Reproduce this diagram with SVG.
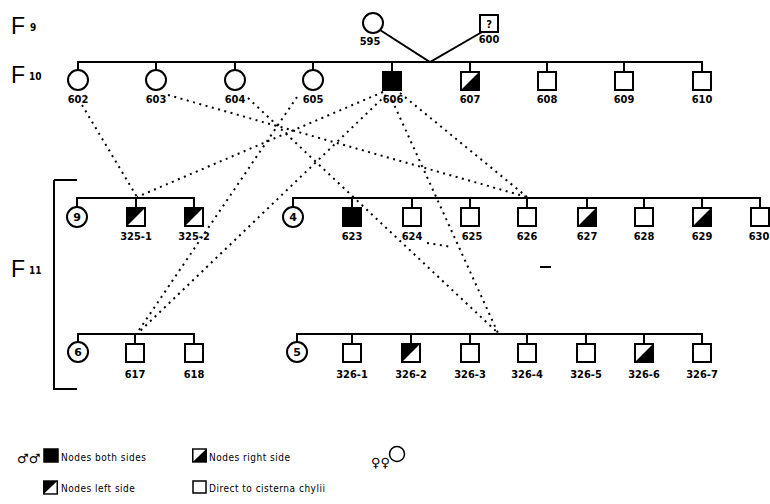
<svg xmlns="http://www.w3.org/2000/svg" xmlns:xlink="http://www.w3.org/1999/xlink" width="770" height="504" viewBox="0 0 770 504">
<style>
.ln{stroke:#000;stroke-width:2;fill:none}
.dot{stroke:#000;stroke-width:2;stroke-dasharray:2 4.5;fill:none}
.sq{fill:#fff;stroke:#000;stroke-width:2}
.ci{fill:#fff;stroke:#000;stroke-width:2}
.lb{font-family:"DejaVu Sans Condensed","DejaVu Sans",sans-serif;font-weight:bold;font-size:11px;text-anchor:middle}
.cn{font-family:"DejaVu Sans",sans-serif;font-weight:bold;font-size:11px;text-anchor:middle}
.gen{font-family:"Liberation Sans",sans-serif;font-size:23px}
.sub{font-family:"DejaVu Sans Condensed",sans-serif;font-weight:bold;font-size:10px}
.lg{font-family:"DejaVu Sans Condensed",sans-serif;font-size:10px;letter-spacing:0.5px}
.sym{font-family:"DejaVu Sans",sans-serif;font-size:13px;font-weight:bold}
</style>
<defs>
<g id="sqE"><rect x="-9" y="0" width="18" height="18" class="sq"/></g>
<g id="sqB"><rect x="-9" y="0" width="18" height="18" fill="#000" stroke="#000" stroke-width="2"/></g>
<g id="sqL"><rect x="-9" y="0" width="18" height="18" class="sq"/><path d="M-9 0H9L-9 18Z" fill="#000"/></g>
<g id="sqR"><rect x="-9" y="0" width="18" height="18" class="sq"/><path d="M9 0V18H-9Z" fill="#000"/></g>
</defs>

<g id="gen-labels">
<text class="gen" x="11" y="34">F</text><text class="sub" x="30" y="31">9</text>
<text class="gen" x="11" y="83">F</text><text class="sub" x="29" y="80">10</text>
<text class="gen" x="11" y="277">F</text><text class="sub" x="29" y="274">11</text>
</g>

<g id="connectors">
<path class="ln" d="M54 180H77M54 180V389H77"/>
<path class="ln" d="M380 30L430 62L482 32"/>
<path class="ln" d="M78 70V62H702V72M156 62V70M235 62V70M313 62V70M392 62V72M470 62V72M547 62V72M624 62V72"/>
<path class="ln" d="M77 207V198H194V208M136 198V208"/>
<path class="ln" d="M293 207V198H760V208M352 198V208M412 198V208M470 198V208M527 198V208M587 198V208M644 198V208M702 198V208"/>
<path class="ln" d="M78 342V334H194V344M135 334V344"/>
<path class="ln" d="M297 342V334H702V344M352 334V344M411 334V344M470 334V344M527 334V344M586 334V344M644 334V344"/>
<path class="dot" d="M82 105L137 197"/>
<path class="dot" d="M168 95L527 197"/>
<path class="dot" d="M248 98L498 333"/>
<path class="dot" d="M297 97L137 333"/>
<path class="dot" d="M383 92L137 197"/>
<path class="dot" d="M386 95L138 333"/>
<path class="dot" d="M400 93L527 197"/>
<path class="dot" d="M392 100L498 333"/>
<path class="dot" d="M427 243L452 247"/>
<path class="ln" d="M540 267H551"/>
</g>

<g id="n595"><circle class="ci" cx="373" cy="23" r="10"/><text class="lb" x="370" y="45">595</text></g>
<g id="n600"><rect x="480" y="15" width="18" height="17" class="sq"/><text class="lb" x="489" y="28">?</text><text class="lb" x="489" y="43">600</text></g>

<g id="n602"><circle class="ci" cx="78" cy="80" r="10"/><text class="lb" x="78" y="103">602</text></g>
<g id="n603"><circle class="ci" cx="156" cy="80" r="10"/><text class="lb" x="156" y="103">603</text></g>
<g id="n604"><circle class="ci" cx="235" cy="80" r="10"/><text class="lb" x="235" y="103">604</text></g>
<g id="n605"><circle class="ci" cx="313" cy="80" r="10"/><text class="lb" x="313" y="103">605</text></g>
<g id="n606"><use xlink:href="#sqB" x="392" y="72"/><text class="lb" x="393" y="103">606</text></g>
<g id="n607"><use xlink:href="#sqR" x="470" y="72"/><text class="lb" x="470" y="103">607</text></g>
<g id="n608"><use xlink:href="#sqE" x="547" y="72"/><text class="lb" x="547" y="103">608</text></g>
<g id="n609"><use xlink:href="#sqE" x="624" y="72"/><text class="lb" x="624" y="103">609</text></g>
<g id="n610"><use xlink:href="#sqE" x="702" y="72"/><text class="lb" x="702" y="103">610</text></g>

<g id="c9"><circle class="ci" cx="77" cy="217" r="10"/><text class="cn" x="77" y="221">9</text></g>
<g id="n325-1"><use xlink:href="#sqL" x="136" y="208"/><text class="lb" x="136" y="240">325-1</text></g>
<g id="n325-2"><use xlink:href="#sqL" x="194" y="208"/><text class="lb" x="194" y="240">325-2</text></g>
<g id="c4"><circle class="ci" cx="293" cy="217" r="10"/><text class="cn" x="293" y="221">4</text></g>
<g id="n623"><use xlink:href="#sqB" x="352" y="208"/><text class="lb" x="352" y="240">623</text></g>
<g id="n624"><use xlink:href="#sqE" x="412" y="208"/><text class="lb" x="412" y="240">624</text></g>
<g id="n625"><use xlink:href="#sqE" x="470" y="208"/><text class="lb" x="472" y="240">625</text></g>
<g id="n626"><use xlink:href="#sqE" x="527" y="208"/><text class="lb" x="527" y="240">626</text></g>
<g id="n627"><use xlink:href="#sqR" x="587" y="208"/><text class="lb" x="587" y="240">627</text></g>
<g id="n628"><use xlink:href="#sqE" x="644" y="208"/><text class="lb" x="644" y="240">628</text></g>
<g id="n629"><use xlink:href="#sqR" x="702" y="208"/><text class="lb" x="702" y="240">629</text></g>
<g id="n630"><use xlink:href="#sqE" x="760" y="208"/><text class="lb" x="759" y="240">630</text></g>

<g id="c6"><circle class="ci" cx="78" cy="352" r="10"/><text class="cn" x="78" y="356">6</text></g>
<g id="n617"><use xlink:href="#sqE" x="135" y="344"/><text class="lb" x="135" y="378">617</text></g>
<g id="n618"><use xlink:href="#sqE" x="194" y="344"/><text class="lb" x="194" y="378">618</text></g>
<g id="c5"><circle class="ci" cx="297" cy="352" r="10"/><text class="cn" x="297" y="356">5</text></g>
<g id="n326-1"><use xlink:href="#sqE" x="352" y="344"/><text class="lb" x="352" y="378">326-1</text></g>
<g id="n326-2"><use xlink:href="#sqL" x="411" y="344"/><text class="lb" x="411" y="378">326-2</text></g>
<g id="n326-3"><use xlink:href="#sqE" x="470" y="344"/><text class="lb" x="470" y="378">326-3</text></g>
<g id="n326-4"><use xlink:href="#sqE" x="527" y="344"/><text class="lb" x="527" y="378">326-4</text></g>
<g id="n326-5"><use xlink:href="#sqE" x="586" y="344"/><text class="lb" x="586" y="378">326-5</text></g>
<g id="n326-6"><use xlink:href="#sqR" x="644" y="344"/><text class="lb" x="644" y="378">326-6</text></g>
<g id="n326-7"><use xlink:href="#sqE" x="702" y="344"/><text class="lb" x="702" y="378">326-7</text></g>

<g id="legend">
<text class="sym" x="17" y="463">♂♂</text>
<rect x="44" y="449" width="14" height="13" fill="#000" stroke="#000" stroke-width="1.5"/>
<text class="lg" x="61" y="461">Nodes both sides</text>
<g transform="translate(199.5,449) scale(0.75,0.72)"><use xlink:href="#sqR"/></g>
<text class="lg" x="209" y="461">Nodes right side</text>
<text class="sym" x="371" y="467">♀♀</text>
<circle cx="397" cy="454" r="7.5" fill="none" stroke="#000" stroke-width="1.5"/>
<g transform="translate(50.5,481) scale(0.75,0.72)"><use xlink:href="#sqL"/></g>
<text class="lg" x="61" y="492">Nodes left  side</text>
<rect x="193" y="481" width="13" height="12" fill="none" stroke="#000" stroke-width="1.5"/>
<text class="lg" x="209" y="492">Direct to cisterna chylii</text>
</g>
</svg>
